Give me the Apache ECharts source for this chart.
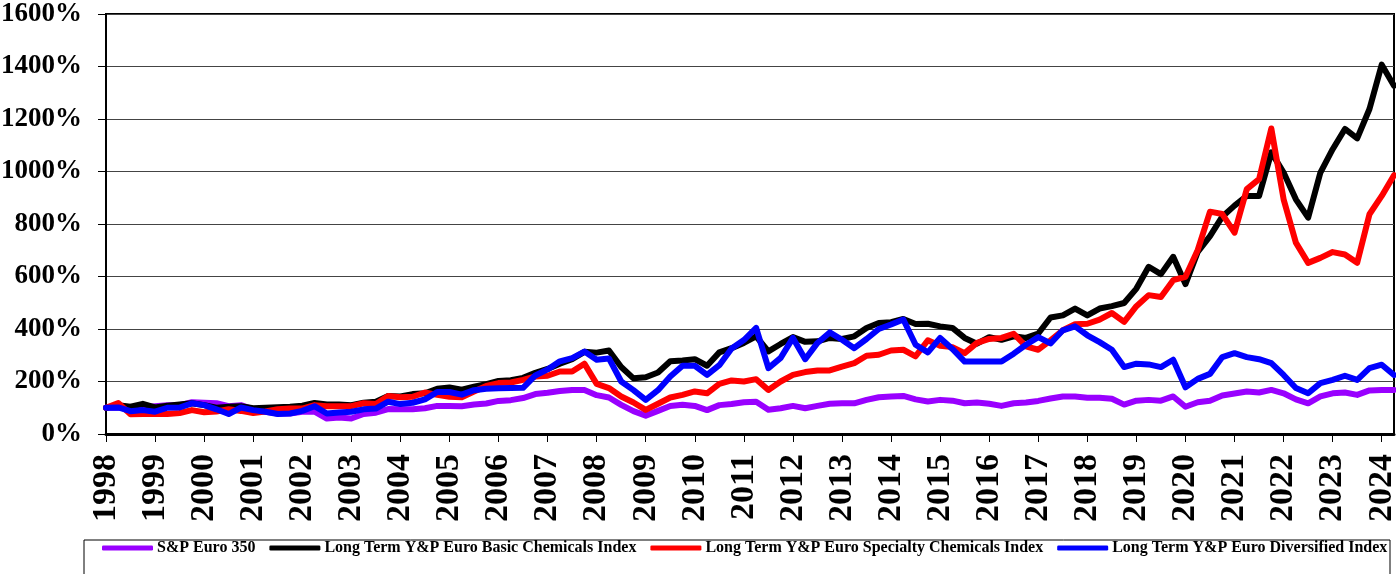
<!DOCTYPE html>
<html>
<head>
<meta charset="utf-8">
<script src="https://cdn.jsdelivr.net/npm/echarts@6/dist/echarts.min.js"></script>
<style>
html,body{margin:0;padding:0;background:#fff;}
#c{width:1396px;height:574px;}
</style>
</head>
<body>
<div id="c"></div>
<script>
// Year tick labels (one per year, each year has 4 quarterly points)
var years = ['1998','1999','2000','2001','2002','2003','2004','2005','2006','2007','2008','2009','2010','2011','2012','2013','2014','2015','2016','2017','2018','2019','2020','2021','2022','2023','2024'];
var quarters = ['Q1','Q2','Q3','Q4'];
var lastYearQuarters = 2; // data ends at 2024 Q2

var seriesNames = ['S&P Euro 350','Long Term Y&P Euro Basic Chemicals Index','Long Term Y&P Euro Specialty Chemicals Index','Long Term Y&P Euro Diversified Index'];

// Values in % (quarterly, 1998 Q1 .. 2024 Q2)
var spEuro350 = [
100,101,94,101, 106,110,110,121, 119,117,106,110, 94,85,78,78, 85,85,59,63,
59,76,81,95, 94,94,98,107, 107,106,112,116, 126,129,137,152, 157,164,168,168,
148,139,111,87, 70,88,107,111, 107,91,110,114, 121,123,92,98, 107,98,107,115,
117,117,130,140, 143,145,132,124, 130,127,117,120, 115,107,117,120, 126,135,143,143,
138,138,134,112, 127,130,127,143, 104,121,127,147, 154,162,158,168, 155,132,117,143,
155,158,149,166, 168,168
];
var basicChem = [
100,110,104,115, 101,108,112,117, 110,100,104,106, 98,100,102,104, 108,118,112,112,
110,119,123,145, 143,152,155,172, 177,169,180,190, 202,205,214,233, 248,268,285,313,
310,318,255,212, 216,234,277,280, 285,260,311,327, 347,372,315,343, 369,351,353,366,
362,372,404,423, 426,438,419,420, 410,404,366,344, 369,359,372,366, 383,444,452,478,
452,478,487,499, 554,637,609,675, 571,694,754,828, 870,907,907,1073, 996,894,824,996,
1085,1162,1126,1238, 1407,1327
];
var specialtyChem = [
100,118,75,76, 76,76,80,91, 83,86,94,88, 80,86,94,97, 97,110,106,106,
106,117,114,145, 140,142,158,149, 142,140,162,183, 194,196,206,219, 222,238,238,268,
191,175,143,120, 92,115,139,149, 162,155,191,204, 200,209,168,200, 225,236,242,242,
257,270,298,302, 318,321,296,357, 336,331,308,347, 362,366,382,334, 321,357,395,418,
420,436,461,427, 487,529,522,586, 599,701,847,838, 767,933,971,1164, 894,729,652,671,
693,684,652,837, 907,986
];
var diversified = [
100,101,87,91, 85,100,101,117, 110,94,76,101, 91,85,76,78, 88,106,78,82,
85,94,97,123, 114,119,132,160, 160,150,167,172, 174,175,176,223, 246,277,289,314,
283,288,200,167, 130,167,219,260, 260,225,262,326, 358,404,251,290, 366,285,347,387,
359,327,362,400, 417,436,340,311, 366,324,276,276, 276,276,306,340, 369,345,395,410,
376,350,321,255, 268,265,255,283, 178,210,229,293, 308,293,285,270, 225,175,155,194,
206,222,206,251, 264,225
];
var colors = ['#9900FF','#000000','#FF0000','#0000FF'];

var categories = [];
years.forEach(function(y, yi){
  var n = (yi === years.length - 1) ? lastYearQuarters : 4;
  for (var q = 0; q < n; q++) categories.push(y + ' ' + quarters[q]);
});

var font = 'Liberation Serif';
var chart = echarts.init(document.getElementById('c'), null, {renderer:'canvas'});
var dataSets = [spEuro350, basicChem, specialtyChem, diversified];

chart.setOption({
  animation: false,
  backgroundColor: '#ffffff',
  grid: {left:106, right:2, top:14, bottom:140, show:true, borderColor:'#000', borderWidth:2,
    backgroundColor:'transparent', containLabel:false, outerBoundsMode:'none'},
  xAxis: {
    type:'category', data:categories, boundaryGap:false,
    axisLine:{show:true, lineStyle:{color:'#000', width:3}},
    axisTick:{show:true, inside:false, length:8, interval:3, lineStyle:{color:'#000', width:1}},
    axisLabel:{interval:3, rotate:90, margin:20, color:'#000', fontFamily:font, fontWeight:'bold', fontSize:34,
      formatter:function(v){return v.split(' ')[0];}},
    splitLine:{show:false}
  },
  yAxis: {
    type:'value', min:0, max:1600, interval:200,
    axisLine:{show:true, lineStyle:{color:'#000', width:2}},
    axisTick:{show:true, length:8, lineStyle:{color:'#000'}},
    axisLabel:{margin:24, color:'#000', fontFamily:font, fontWeight:'bold', fontSize:27,
      formatter:function(v){return v + '%';}},
    splitLine:{show:true, lineStyle:{color:'#444', width:1}}
  },
  legend: {
    left:97, top:535, itemGap:14, itemWidth:51, itemHeight:5, icon:'roundRect',
    textStyle:{fontFamily:font, fontWeight:'bold', fontSize:16, lineHeight:16, color:'#000', padding:[0,0,0,-1]},
    data: seriesNames
  },
  graphic: [{type:'rect', shape:{x:84, y:540, width:1306, height:60}, style:{fill:'none', stroke:'#000', lineWidth:1}, z:-1}],
  series: seriesNames.map(function(name, i){
    return {name:name, type:'line', data:dataSets[i], symbol:'none', smooth:false,
      color:colors[i], lineStyle:{color:colors[i], width:6, join:'round', cap:'round'}};
  })
});
</script>
</body>
</html>
